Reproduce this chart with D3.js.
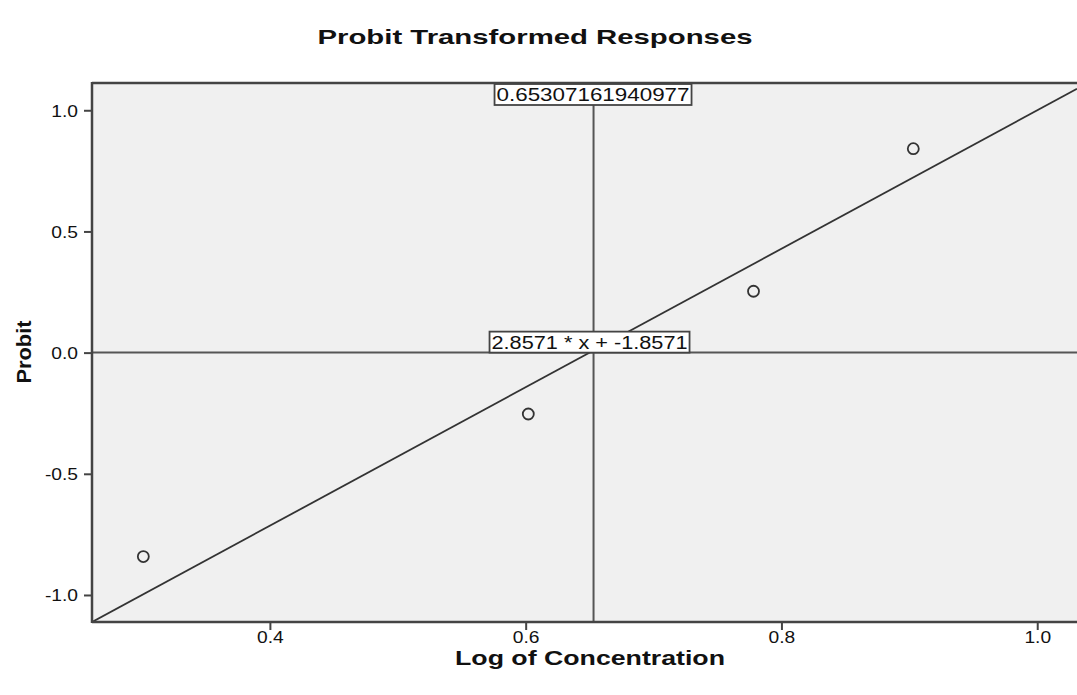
<!DOCTYPE html>
<html>
<head>
<meta charset="utf-8">
<script src="https://cdn.jsdelivr.net/npm/d3@7"></script>
<style>
  body { margin: 0; background: #fff; }
  text { font-family: "Liberation Sans", Arial, sans-serif; fill: #111; }
</style>
</head>
<body>
<svg id="chart"></svg>
<script>
// chart data
var logConc = [0.30103, 0.60206, 0.77815, 0.90309];
var probit = [-0.8416, -0.2533, 0.2533, 0.8416];
var xTicks = [0.4, 0.6, 0.8, 1.0];
var yTicks = [-1.0, -0.5, 0.0, 0.5, 1.0];
var slope = 2.8571;
var intercept = -1.8571;
var crossX = 0.65307161940977;
var crossLabel = "0.65307161940977";
var fitLabel = "2.8571 * x + -1.8571";

var width = 1077;
var height = 695;
var plotL = 92, plotT = 83, plotR = 1077, plotB = 622;
var stretch = 1.2;   // the source picture is a little wider than tall

var svg = d3.select("#chart")
  .attr("width", width)
  .attr("height", height);

var xScale = d3.scaleLinear()
  .domain([0.2609, 1.0311])
  .range([plotL, plotR]);

var yScale = d3.scaleLinear()
  .domain([-1.1115, 1.1125])
  .range([plotB, plotT]);

// SPSS style: plain hyphen for negatives
var fmt = d => d3.format(".1f")(d).replace("\u2212", "-");

// widen a text by the stretch factor
function widen(sel, f) {
  sel.each(function() {
    var w = this.getComputedTextLength();
    d3.select(this)
      .attr("textLength", w * f)
      .attr("lengthAdjust", "spacingAndGlyphs");
  });
}

// plot background
svg.append("rect")
  .attr("x", plotL).attr("y", plotT)
  .attr("width", plotR - plotL).attr("height", plotB - plotT)
  .attr("fill", "#f0f0f0");

svg.append("clipPath").attr("id", "plotclip")
  .append("rect")
  .attr("x", plotL).attr("y", plotT)
  .attr("width", plotR - plotL).attr("height", plotB - plotT);

var plot = svg.append("g").attr("clip-path", "url(#plotclip)");

// reference lines
plot.append("line")
  .attr("x1", plotL).attr("x2", plotR)
  .attr("y1", yScale(0)).attr("y2", yScale(0))
  .attr("stroke", "#555").attr("stroke-width", 2);

plot.append("line")
  .attr("x1", xScale(crossX)).attr("x2", xScale(crossX))
  .attr("y1", plotT).attr("y2", plotB)
  .attr("stroke", "#555").attr("stroke-width", 2);

// fitted line
var xd = xScale.domain();
plot.append("line")
  .attr("x1", xScale(xd[0])).attr("y1", yScale(slope * xd[0] + intercept))
  .attr("x2", xScale(xd[1])).attr("y2", yScale(slope * xd[1] + intercept))
  .attr("stroke", "#333").attr("stroke-width", 1.8);

// points
plot.selectAll("circle")
  .data(logConc)
  .enter()
  .append("circle")
    .attr("cx", d => xScale(d))
    .attr("cy", (d, i) => yScale(probit[i]))
    .attr("r", 5.5)
    .attr("fill", "none")
    .attr("stroke", "#333")
    .attr("stroke-width", 1.8);

// label boxes
function labelBox(x0, y0, w, txt) {
  var g = svg.append("g");
  g.append("rect")
    .attr("x", x0).attr("y", y0)
    .attr("width", w).attr("height", 21)
    .attr("fill", "#fff").attr("stroke", "#444").attr("stroke-width", 1.8);
  g.append("text")
    .attr("x", x0 + 2).attr("y", y0 + 17)
    .style("font-size", "18px")
    .attr("textLength", w - 4)
    .attr("lengthAdjust", "spacingAndGlyphs")
    .text(txt);
}
labelBox(xScale(crossX) - 99, plotT + 1, 197, crossLabel);
labelBox(xScale(crossX) - 104, yScale(0) - 21, 200, fitLabel);

// axes
var xAxis = d3.axisBottom(xScale)
  .tickValues(xTicks)
  .tickFormat(fmt)
  .tickSize(8)
  .tickSizeOuter(0);

var yAxis = d3.axisLeft(yScale)
  .tickValues(yTicks)
  .tickFormat(fmt)
  .tickSize(8)
  .tickSizeOuter(0);

var gx = svg.append("g")
  .attr("transform", "translate(0," + plotB + ")")
  .call(xAxis);
gx.select(".domain").remove();
gx.selectAll("line").attr("stroke", "#444").attr("stroke-width", 2);
gx.selectAll("text")
  .style("font-size", "16px").attr("fill", "#222")
  .attr("y", 21).attr("dy", null)
  .call(widen, stretch);

var gy = svg.append("g")
  .attr("transform", "translate(" + plotL + ",0)")
  .call(yAxis);
gy.select(".domain").remove();
gy.selectAll("line").attr("stroke", "#444").attr("stroke-width", 2);
gy.selectAll("text")
  .style("font-size", "16px").attr("fill", "#222")
  .attr("x", -14).attr("dy", "0.36em")
  .call(widen, stretch);

// frame
svg.append("line")
  .attr("x1", plotL).attr("x2", plotR).attr("y1", plotT).attr("y2", plotT)
  .attr("stroke", "#444").attr("stroke-width", 2.5);
svg.append("line")
  .attr("x1", plotL).attr("x2", plotR).attr("y1", plotB).attr("y2", plotB)
  .attr("stroke", "#444").attr("stroke-width", 2.5);
svg.append("line")
  .attr("x1", plotL).attr("x2", plotL).attr("y1", plotT - 1).attr("y2", plotB + 1)
  .attr("stroke", "#444").attr("stroke-width", 2.5);

// titles
svg.append("text")
  .attr("x", 535).attr("y", 44)
  .attr("text-anchor", "middle")
  .style("font-size", "21px").style("font-weight", "bold")
  .attr("textLength", 435).attr("lengthAdjust", "spacingAndGlyphs")
  .text("Probit Transformed Responses");

svg.append("text")
  .attr("x", 590).attr("y", 665)
  .attr("text-anchor", "middle")
  .style("font-size", "20px").style("font-weight", "bold")
  .attr("textLength", 270).attr("lengthAdjust", "spacingAndGlyphs")
  .text("Log of Concentration");

svg.append("text")
  .attr("transform", "rotate(-90)")
  .attr("x", -352).attr("y", 31)
  .attr("text-anchor", "middle")
  .style("font-size", "20px").style("font-weight", "bold")
  .attr("textLength", 63).attr("lengthAdjust", "spacingAndGlyphs")
  .text("Probit");
</script>
</body>
</html>
